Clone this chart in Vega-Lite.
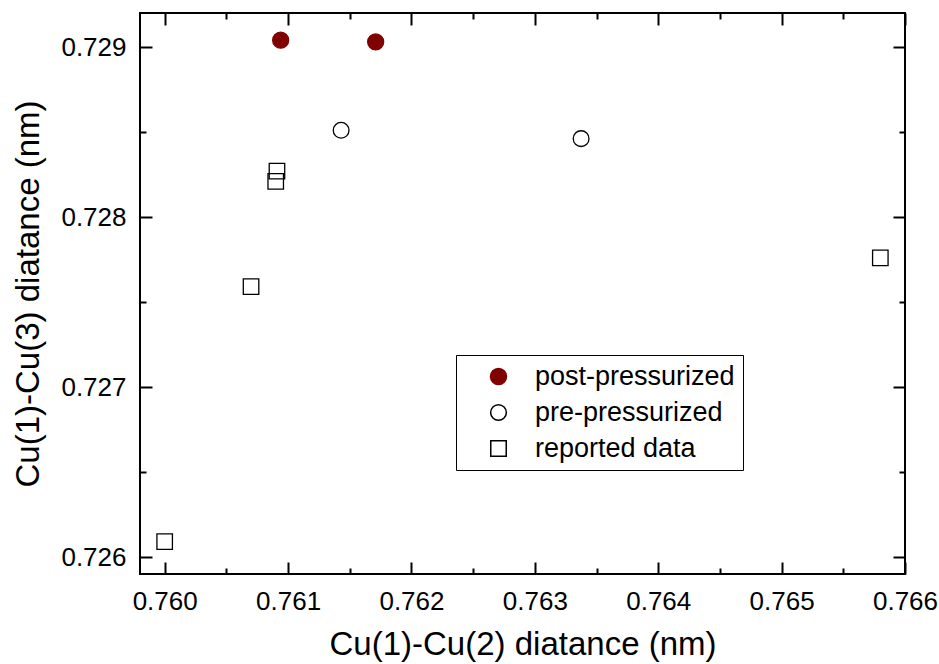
{
  "$schema": "https://vega.github.io/schema/vega-lite/v6.json",
  "width": 765,
  "height": 561,
  "autosize": {"type": "none"},
  "padding": {"left": 140, "top": 13, "right": 34, "bottom": 90},
  "background": "white",
  "config": {
    "view": {"stroke": "black", "strokeWidth": 2},
    "axis": {
      "grid": false,
      "domain": false,
      "tickColor": "black",
      "tickWidth": 2,
      "labelFont": "Liberation Sans",
      "titleFont": "Liberation Sans",
      "labelColor": "black",
      "titleColor": "black",
      "labelFontSize": 26,
      "titleFontSize": 33,
      "titleFontWeight": "normal"
    },
    "legend": {
      "title": null,
      "orient": "none",
      "legendX": 316,
      "legendY": 342,
      "strokeColor": "black",
      "fillColor": "white",
      "padding": 8,
      "symbolOffset": 21,
      "labelOffset": 23,
      "labelFont": "Liberation Sans",
      "labelFontSize": 27,
      "labelColor": "black",
      "rowPadding": 8,
      "labelLimit": 400
    }
  },
  "data": {
    "values": [
      {"x": 0.76094, "y": 0.72904, "series": "post-pressurized"},
      {"x": 0.76171, "y": 0.72903, "series": "post-pressurized"},
      {"x": 0.76143, "y": 0.72851, "series": "pre-pressurized"},
      {"x": 0.763375, "y": 0.728461, "series": "pre-pressurized"},
      {"x": 0.76091, "y": 0.72827, "series": "reported data"},
      {"x": 0.76090, "y": 0.72821, "series": "reported data"},
      {"x": 0.76070, "y": 0.72759, "series": "reported data"},
      {"x": 0.76580, "y": 0.72776, "series": "reported data"},
      {"x": 0.76000, "y": 0.72609, "series": "reported data"}
    ]
  },
  "layer": [
    {
      "mark": {"type": "point", "filled": true, "strokeWidth": 1.3, "opacity": 1},
      "encoding": {
        "x": {
          "field": "x", "type": "quantitative",
          "scale": {"domain": [0.7598, 0.766], "nice": false, "zero": false},
          "axis": {
            "orient": "bottom",
            "values": [0.760, 0.761, 0.762, 0.763, 0.764, 0.765, 0.766],
            "format": ".3f",
            "tickSize": -12,
            "labelPadding": 26,
            "labelFlush": false,
            "labelOverlap": false,
            "title": "Cu(1)-Cu(2) diatance (nm)",
            "titlePadding": 14
          }
        },
        "y": {
          "field": "y", "type": "quantitative",
          "scale": {"domain": [0.7259, 0.7292], "nice": false, "zero": false},
          "axis": {
            "orient": "left",
            "values": [0.726, 0.727, 0.728, 0.729],
            "format": ".3f",
            "tickSize": -12,
            "labelPadding": 26,
            "labelFlush": false,
            "labelOverlap": false,
            "title": "Cu(1)-Cu(3) diatance (nm)",
            "titlePadding": 15
          }
        },
        "shape": {
          "field": "series", "type": "nominal",
          "scale": {"domain": ["post-pressurized", "pre-pressurized", "reported data"], "range": ["circle", "circle", "square"]}
        },
        "fill": {
          "field": "series", "type": "nominal",
          "scale": {"domain": ["post-pressurized", "pre-pressurized", "reported data"], "range": ["#800000", "transparent", "transparent"]}
        },
        "stroke": {
          "field": "series", "type": "nominal",
          "scale": {"domain": ["post-pressurized", "pre-pressurized", "reported data"], "range": ["#800000", "black", "black"]}
        },
        "size": {
          "field": "series", "type": "nominal",
          "scale": {"domain": ["post-pressurized", "pre-pressurized", "reported data"], "range": [256, 240, 185]}
        }
      }
    },
    {
      "mark": {"type": "point", "opacity": 0},
      "encoding": {
        "x": {
          "field": "x", "type": "quantitative",
          "scale": {"domain": [0.7598, 0.766], "nice": false, "zero": false},
          "axis": {"orient": "bottom", "values": [0.7605, 0.7615, 0.7625, 0.7635, 0.7645, 0.7655], "tickSize": -6, "labels": false, "title": null}
        },
        "y": {
          "field": "y", "type": "quantitative",
          "scale": {"domain": [0.7259, 0.7292], "nice": false, "zero": false},
          "axis": {"orient": "left", "values": [0.7265, 0.7275, 0.7285], "tickSize": -6, "labels": false, "title": null}
        }
      }
    },
    {
      "mark": {"type": "point", "opacity": 0},
      "encoding": {
        "x": {
          "field": "x", "type": "quantitative",
          "scale": {"domain": [0.7598, 0.766], "nice": false, "zero": false},
          "axis": {"orient": "top", "values": [0.760, 0.761, 0.762, 0.763, 0.764, 0.765, 0.766], "tickSize": -12, "labels": false, "title": null}
        },
        "y": {
          "field": "y", "type": "quantitative",
          "scale": {"domain": [0.7259, 0.7292], "nice": false, "zero": false},
          "axis": {"orient": "right", "values": [0.726, 0.727, 0.728, 0.729], "tickSize": -12, "labels": false, "title": null}
        }
      }
    },
    {
      "mark": {"type": "point", "opacity": 0},
      "encoding": {
        "x": {
          "field": "x", "type": "quantitative",
          "scale": {"domain": [0.7598, 0.766], "nice": false, "zero": false},
          "axis": {"orient": "top", "values": [0.7605, 0.7615, 0.7625, 0.7635, 0.7645, 0.7655], "tickSize": -6, "labels": false, "title": null}
        },
        "y": {
          "field": "y", "type": "quantitative",
          "scale": {"domain": [0.7259, 0.7292], "nice": false, "zero": false},
          "axis": {"orient": "right", "values": [0.7265, 0.7275, 0.7285], "tickSize": -6, "labels": false, "title": null}
        }
      }
    }
  ],
  "resolve": {"axis": {"x": "independent", "y": "independent"}}
}
